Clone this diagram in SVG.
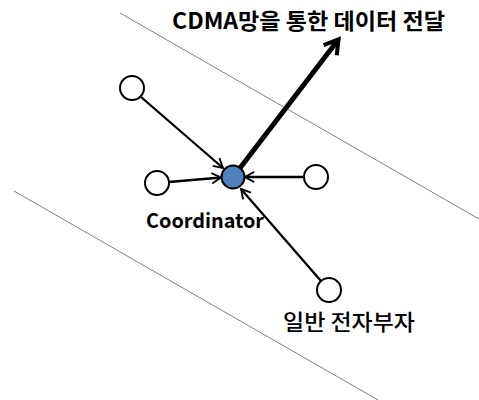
<svg xmlns="http://www.w3.org/2000/svg" width="479" height="400" viewBox="0 0 479 400">
  <style>
    .bound { stroke: #808080; stroke-width: 1; fill: none; }
    .link { stroke: #000; stroke-width: 2.3; fill: none; }
    .uplink { stroke: #000; stroke-width: 5; fill: none; }
    .node { fill: #fff; stroke: #000; stroke-width: 2; }
    .coord { fill: #4f81bd; stroke: #000; stroke-width: 2; }
    .lbl { font-family: "Noto Sans CJK KR", "Noto Sans", sans-serif; fill: #000; }
  </style>
  <defs>
    <marker id="open" viewBox="0 0 12 12" refX="10" refY="6" markerWidth="6" markerHeight="6" markerUnits="strokeWidth" orient="auto">
      <path d="M2,1.5 L10,6 L2,10.5" fill="none" stroke="#000" stroke-width="1.6"/>
    </marker>
    <marker id="openBig" viewBox="0 0 12 12" refX="9" refY="6" markerWidth="4.4" markerHeight="4.4" markerUnits="strokeWidth" orient="auto">
      <path d="M2,1.5 L9.5,6 L2,10.5" fill="none" stroke="#000" stroke-width="2.2"/>
    </marker>
  </defs>

  <!-- coverage boundaries -->
  <g id="boundaries">
    <line class="bound" x1="120" y1="13" x2="479" y2="219"/>
    <line class="bound" x1="14" y1="191" x2="378" y2="400"/>
  </g>

  <g id="connectors">
    <line class="link" x1="141" y1="97" x2="223" y2="168" marker-end="url(#open)"/>
    <line class="link" x1="169" y1="182" x2="221" y2="177.5" marker-end="url(#open)"/>
    <line class="link" x1="304" y1="177" x2="245" y2="177" marker-end="url(#open)"/>
    <line class="link" x1="321" y1="281" x2="241" y2="189" marker-end="url(#open)"/>
    <line class="uplink" x1="240" y1="168" x2="338" y2="40" marker-end="url(#openBig)"/>
  </g>

  <g id="node-coordinator">
    <circle class="coord" cx="233" cy="177" r="11.5"/>
    <text class="lbl" x="146" y="228" font-size="20" font-weight="bold" textLength="118" lengthAdjust="spacingAndGlyphs">Coordinator</text>
  </g>
  <g id="node-topleft">
    <circle class="node" cx="132" cy="88" r="12"/>
  </g>
  <g id="node-left">
    <circle class="node" cx="157" cy="183" r="12"/>
  </g>
  <g id="node-right">
    <circle class="node" cx="316" cy="177" r="12"/>
  </g>
  <g id="node-bottomright">
    <circle class="node" cx="329" cy="290" r="12"/>
    <text class="lbl" x="283" y="330" font-size="22" font-weight="500" textLength="132" lengthAdjust="spacingAndGlyphs">일반 전자부자</text>
  </g>

  <g id="title">
    <text class="lbl" x="172" y="29" font-size="22" font-weight="bold" textLength="273" lengthAdjust="spacingAndGlyphs">CDMA망을 통한 데이터 전달</text>
  </g>
</svg>
